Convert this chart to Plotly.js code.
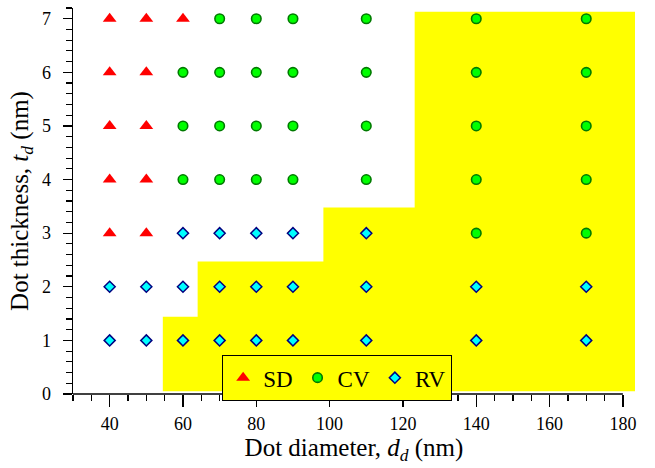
<!DOCTYPE html>
<html><head><meta charset="utf-8">
<script src="https://cdn.plot.ly/plotly-3.0.1.min.js"></script>
<style>html,body{margin:0;padding:0;background:#fff}#chart{width:655px;height:468px}</style>
</head><body><div id="chart"></div>
<script>
// SD points
const sdX = [40,40,40,40,40,50,50,50,50,50,60];
const sdY = [3,4,5,6,7,3,4,5,6,7,7];
// CV points
const cvX = [60,60,60,70,70,70,70,80,80,80,80,90,90,90,90,110,110,110,110,140,140,140,140,140,170,170,170,170,170];
const cvY = [4,5,6,4,5,6,7,4,5,6,7,4,5,6,7,4,5,6,7,3,4,5,6,7,3,4,5,6,7];
// RV points
const rvX = [40,40,50,50,60,60,60,70,70,70,80,80,80,90,90,90,110,110,110,140,140,170,170];
const rvY = [1,2,1,2,1,2,3,1,2,3,1,2,3,1,2,3,1,2,3,1,2,1,2];
// Yellow region outline (staircase)
const regionX = [54.5,54.5,64,64,98.3,98.3,123.2,123.2,183.3,183.3,54.5];
const regionY = [0.05,1.44,1.44,2.47,2.47,3.48,3.48,7.13,7.13,0.05,0.05];
const xTicks = [40,60,80,100,120,140,160,180];
const yTicks = [0,1,2,3,4,5,6,7];

const F = "Liberation Serif";
const traces = [
  {x: regionX, y: regionY, type:'scatter', mode:'lines', fill:'toself', fillcolor:'#ffff00',
   line:{width:0, color:'#ffff00'}, showlegend:false, hoverinfo:'skip'},
  {x: sdX, y: sdY, type:'scatter', mode:'markers', name:'SD',
   marker:{symbol:'triangle-up', size:12, color:'#ff0000', line:{width:0}}},
  {x: cvX, y: cvY, type:'scatter', mode:'markers', name:'CV',
   marker:{symbol:'circle', size:9.5, color:'#00ff00', line:{width:1.6, color:'#007a00'}}},
  {x: rvX, y: rvY, type:'scatter', mode:'markers', name:'RV',
   marker:{symbol:'diamond', size:8.5, color:'#00ffff', line:{width:1.5, color:'#000080'}}}
];
const layout = {
  width:655, height:468,
  margin:{l:73, r:20, t:8, b:74},
  paper_bgcolor:'#fff', plot_bgcolor:'rgba(0,0,0,0)',
  font:{family:F, size:18, color:'#000'},
  showlegend:true,
  legend:{orientation:'h', x:0.265, xanchor:'left', y:0.101, yanchor:'top',
    bgcolor:'#ffff00', bordercolor:'#000', borderwidth:1.2, font:{family:F, size:23, color:'#000'},
    itemwidth:30, tracegroupgap:0},
  xaxis:{range:[30,183.3], showgrid:false, zeroline:false, showline:false,
    tickvals:xTicks, ticktext:xTicks.map(String), ticks:'outside', ticklen:12, tickwidth:1.3, tickcolor:'#000',
    ticklabelstandoff:1,
    minor:{dtick:5, tick0:30, ticks:'outside', ticklen:6, tickwidth:1.2, tickcolor:'#000', showgrid:false},
    tickfont:{family:F, size:18, color:'#000'},
    title:{text:'Dot diameter, <i>d<sub>d</sub></i> (nm)', font:{family:F, size:25, color:'#000'}, standoff:4}},
  yaxis:{range:[0,7.2], showgrid:false, zeroline:false, showline:true, linecolor:'#000', linewidth:1.3,
    tickvals:yTicks, ticktext:yTicks.map(String), ticks:'outside', ticklen:9, tickwidth:1.3, tickcolor:'#000',
    ticklabelstandoff:8,
    minor:{dtick:0.2, tick0:0, ticks:'outside', ticklen:6, tickwidth:1.2, tickcolor:'#000', showgrid:false},
    tickfont:{family:F, size:18, color:'#000'},
    title:{text:'Dot thickness, <i>t<sub>d</sub></i> (nm)', font:{family:F, size:25, color:'#000'}, standoff:6}},
  shapes:[{type:'line', xref:'x', yref:'paper', x0:30, x1:180, y0:0, y1:0, line:{color:'#000', width:1.3}, layer:'above'}]
};
Plotly.newPlot('chart', traces, layout, {displayModeBar:false, staticPlot:true});
</script></body></html>
